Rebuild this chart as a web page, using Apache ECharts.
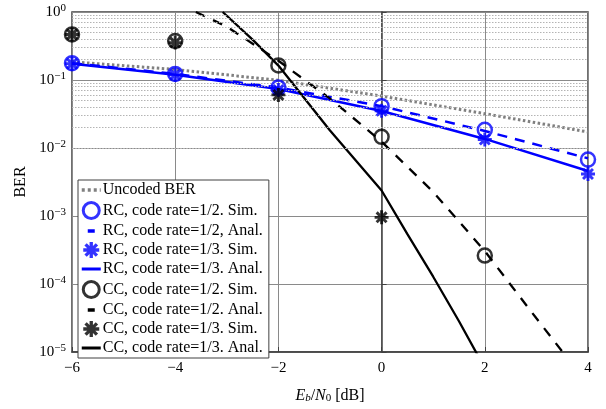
<!DOCTYPE html>
<html>
<head>
<meta charset="utf-8">
<script src="https://cdn.jsdelivr.net/npm/echarts@6/dist/echarts.min.js"></script>
<style>html,body{margin:0;padding:0;background:#fff}#c{width:606px;height:409px}</style>
</head>
<body>
<div id="c"></div>
<script>
// Eb/N0 tick positions (dB)
const ebn0 = [-6, -4, -2, 0, 2, 4];
const uncoded = [0.185, 0.143, 0.099, 0.058, 0.032, 0.0172];
const rcHalfSim = [0.177, 0.123, 0.0773, 0.0412, 0.0185, 0.00675];
const rcHalfAnal = [0.177, 0.123, 0.0773, 0.0413, 0.0178, 0.00705];
const rcThirdSim = [0.174, 0.119, 0.0711, 0.0352, 0.0133, 0.00415];
const rcThirdAnal = [0.174, 0.119, 0.0736, 0.0350, 0.0136, 0.00458];
const ccHalfSimX = [-6, -4, -2, 0, 2];
const ccHalfSim = [0.468, 0.375, 0.164, 0.0146, 0.000262];
const ccThirdSimX = [-6, -4, -2, 0];
const ccThirdSim = [0.468, 0.355, 0.0604, 0.000955];
const ccHalfAnalX = [-3.6, -3, -2, -1, 0, 1, 2, 3, 3.5, 4];
const ccHalfAnal = [1.0, 0.61, 0.192, 0.0533, 0.0124, 0.00226, 0.000305, 0.0000313, 0.0000102, 0.0000032];
const ccThirdAnalX = [-3.08, -3, -2.5, -2, -1, 0, 0.5, 1, 1.5, 2];
const ccThirdAnal = [1.0, 0.881, 0.393, 0.163, 0.0181, 0.00237, 0.00054, 0.000128, 0.0000283, 0.0000058];

const names = ['Uncoded BER', 'RC, code rate=1/2. Sim.', 'RC, code rate=1/2, Anal.', 'RC, code rate=1/3. Sim.', 'RC, code rate=1/3. Anal.', 'CC, code rate=1/2. Sim.', 'CC, code rate=1/2. Anal.', 'CC, code rate=1/3. Sim.', 'CC, code rate=1/3. Anal.'];

const pair = (xs, ys) => xs.map((x, i) => [x, ys[i]]);
const SERIF = "'Liberation Serif', 'DejaVu Serif', serif";
const BLUE = '#0000ff';
const STAR = 'path://M9.5 0H14.5V24H9.5Z M0 9.5H24V14.5H0Z M5.27 1.73L22.27 18.73L18.73 22.27L1.73 5.27Z M18.73 1.73L22.27 5.27L5.27 22.27L1.73 18.73Z';

// minor log grid positions
const minor = [];
for (let e = -5; e < 0; e++) for (let k = 2; k <= 9; k++) minor.push({ yAxis: k * Math.pow(10, e) });

const hideSym = { opacity: 0 };
const legendData = [
  { name: names[0], itemStyle: hideSym, lineStyle: { type: [3, 3], width: 3.5 } },
  { name: names[1], itemStyle: { borderWidth: 3 } },
  { name: names[2], itemStyle: hideSym, lineStyle: { type: [7, 30], dashOffset: 31, width: 3.5 } },
  { name: names[3] },
  { name: names[4], itemStyle: hideSym, lineStyle: { width: 3 } },
  { name: names[5], itemStyle: { borderWidth: 3 } },
  { name: names[6], itemStyle: hideSym, lineStyle: { type: [7, 30], dashOffset: 31, width: 3.5 } },
  { name: names[7] },
  { name: names[8], itemStyle: hideSym, lineStyle: { width: 3 } }
];

const chart = echarts.init(document.getElementById('c'), null, { renderer: 'canvas' });
chart.setOption({
  animation: false,
  backgroundColor: '#fff',
  grid: { left: 72, right: 18, top: 12, bottom: 49, show: true, borderColor: '#404040', borderWidth: 1.5, backgroundColor: 'transparent' },
  xAxis: {
    type: 'value', min: -6, max: 4, interval: 2,
    name: '{i|E}{s|b}{n|/}{i|N}{s0|0}{n| [dB]}',
    nameLocation: 'middle', nameGap: 35,
    nameTextStyle: {
      rich: {
        i: { fontFamily: SERIF, fontStyle: 'italic', fontSize: 16, color: '#000' },
        s: { fontFamily: SERIF, fontStyle: 'italic', fontSize: 11, color: '#000', verticalAlign: 'bottom', padding: [6, 0, 0, 0] },
        s0: { fontFamily: SERIF, fontSize: 11, color: '#000', verticalAlign: 'bottom', padding: [6, 0, 0, 0] },
        n: { fontFamily: SERIF, fontSize: 16, color: '#000' }
      }
    },
    axisLine: { show: true, lineStyle: { color: '#404040', width: 1.5 } },
    axisTick: { show: true, inside: true, length: 5, lineStyle: { color: '#404040' } },
    axisLabel: { color: '#000', fontFamily: SERIF, fontSize: 15, margin: 9,
      formatter: v => (v < 0 ? '\u2212' + Math.abs(v) : '' + v) },
    splitLine: { show: true, lineStyle: { color: '#8a8a8a', width: 1 } }
  },
  yAxis: {
    type: 'log', logBase: 10, min: 1e-5, max: 1, splitNumber: 5,
    name: 'BER', nameLocation: 'middle', nameGap: 43,
    nameTextStyle: { fontFamily: SERIF, fontSize: 16, color: '#000' },
    axisLine: { show: true, lineStyle: { color: '#404040', width: 1.5 } },
    axisTick: { show: true, inside: true, length: 5, lineStyle: { color: '#404040' } },
    axisLabel: {
      margin: 6,
      formatter: v => {
        const e = Math.round(Math.log10(v));
        return '{b|10}{s|' + (e < 0 ? '\u2212' + Math.abs(e) : e) + '}';
      },
      rich: {
        b: { fontFamily: SERIF, fontSize: 15, color: '#000' },
        s: { fontFamily: SERIF, fontSize: 11, color: '#000', verticalAlign: 'top', padding: [0, 0, 7, 0] }
      }
    },
    splitLine: { show: true, lineStyle: { color: '#8a8a8a', width: 1 } }
  },
  legend: {
    orient: 'vertical', left: 78, top: 180,
    data: legendData,
    backgroundColor: '#fff', borderColor: '#404040', borderWidth: 1,
    padding: [2, 6, 2, 2], itemGap: 3, itemWidth: 19, itemHeight: 16,
    textStyle: { fontFamily: SERIF, fontSize: 16, color: '#000', padding: [0, 0, 0, -3] }
  },
  series: [
    { type: 'line', name: '_minor', data: [], silent: true, z: 1,
      markLine: { silent: true, symbol: 'none', animation: false, label: { show: false },
        lineStyle: { color: '#b4b4b4', width: 1, type: [1.5, 1.5] }, data: minor } },
    { type: 'line', name: names[0], data: pair(ebn0, uncoded), symbol: 'none', z: 3,
      lineStyle: { color: '#808080', width: 3, type: [2.5, 2.5] }, itemStyle: { color: '#808080' } },
    { type: 'scatter', name: names[1], data: pair(ebn0, rcHalfSim), symbol: 'circle', symbolSize: 14, z: 5,
      itemStyle: { color: 'transparent', borderColor: BLUE, borderWidth: 2.5 } },
    { type: 'line', name: names[2], data: pair(ebn0, rcHalfAnal), symbol: 'none', z: 4,
      lineStyle: { color: BLUE, width: 2.5, type: [10, 8] }, itemStyle: { color: BLUE } },
    { type: 'scatter', name: names[3], data: pair(ebn0, rcThirdSim), symbol: STAR, symbolSize: 14, z: 5,
      itemStyle: { color: BLUE } },
    { type: 'line', name: names[4], data: pair(ebn0, rcThirdAnal), symbol: 'none', z: 4,
      lineStyle: { color: BLUE, width: 2.5 }, itemStyle: { color: BLUE } },
    { type: 'scatter', name: names[5], data: pair(ccHalfSimX, ccHalfSim), symbol: 'circle', symbolSize: 14, z: 5,
      itemStyle: { color: 'transparent', borderColor: '#000', borderWidth: 2.5 } },
    { type: 'line', name: names[6], data: pair(ccHalfAnalX, ccHalfAnal), symbol: 'none', z: 4,
      lineStyle: { color: '#000', width: 2.3, type: [10, 9] }, itemStyle: { color: '#000' } },
    { type: 'scatter', name: names[7], data: pair(ccThirdSimX, ccThirdSim), symbol: STAR, symbolSize: 14, z: 5,
      itemStyle: { color: '#000' } },
    { type: 'line', name: names[8], data: pair(ccThirdAnalX, ccThirdAnal), symbol: 'none', z: 4,
      lineStyle: { color: '#000', width: 2.3 }, itemStyle: { color: '#000' } }
  ]
});
</script>
</body>
</html>
